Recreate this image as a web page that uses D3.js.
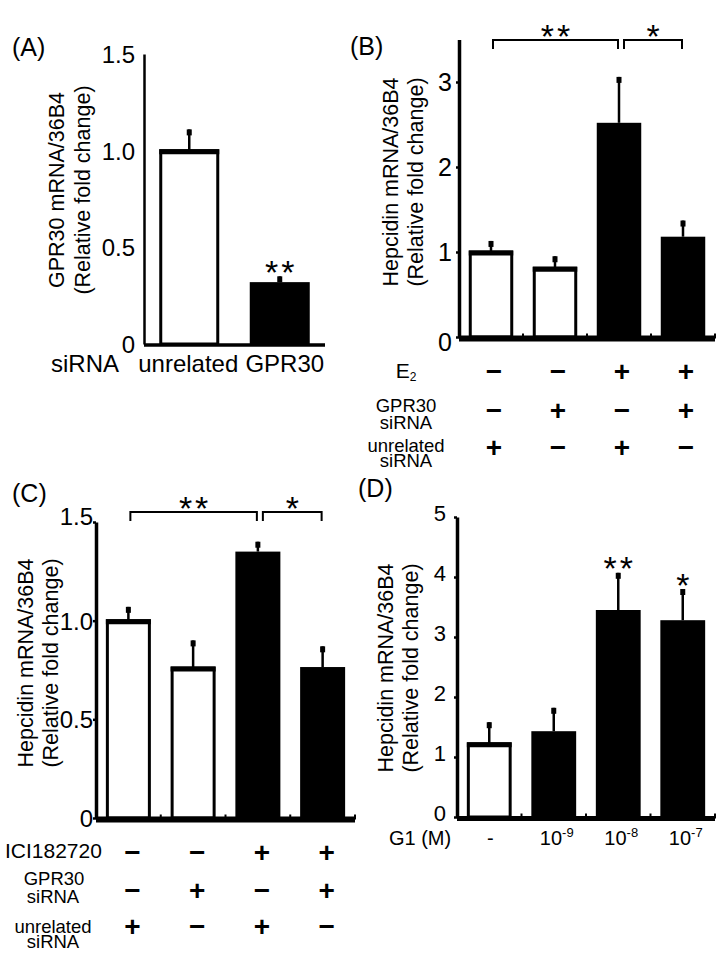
<!DOCTYPE html>
<html><head><meta charset="utf-8">
<script src="https://cdn.jsdelivr.net/npm/d3@7"></script>
<style>
html,body{margin:0;padding:0;background:#fff;}
svg{display:block;}
</style></head><body>
<svg id="chart" width="724" height="954"></svg>
<script>
// ---------- DATA ----------
// Panel A
const aCategories = ["unrelated", "GPR30"];
const aValues = [1.0, 0.32];
const aErrTop = [1.11, 0.35];
const aSig = ["", "**"];
const aTicks = [0, 0.5, 1.0, 1.5];
const aTickLabels = ["0", "0.5", "1.0", "1.5"];

// Panel B
const bCategories = ["g1", "g2", "g3", "g4"];
const bValues = [1.0, 0.81, 2.52, 1.18];
const bErrTop = [1.13, 0.95, 3.06, 1.37];
const bTicks = [0, 1, 2, 3];
const bTickLabels = ["0", "1", "2", "3"];
const bE2 = ["−", "−", "+", "+"];
const bGPR30siRNA = ["−", "+", "−", "+"];
const bUnrelatedSiRNA = ["+", "−", "+", "−"];
const bBrackets = [[0, 2, "**"], [2, 3, "*"]];

// Panel C
const cCategories = ["g1", "g2", "g3", "g4"];
const cValues = [1.0, 0.76, 1.35, 0.765];
const cErrTop = [1.07, 0.90, 1.40, 0.87];
const cTicks = [0, 0.5, 1.0, 1.5];
const cTickLabels = ["0", "0.5", "1.0", "1.5"];
const cICI = ["−", "−", "+", "+"];
const cGPR30siRNA = ["−", "+", "−", "+"];
const cUnrelatedSiRNA = ["+", "−", "+", "−"];
const cBrackets = [[0, 2, "**"], [2, 3, "*"]];

// Panel D (G1 dose, M)
const dCategories = ["-", "-9", "-8", "-7"];
const dValues = [1.22, 1.43, 3.45, 3.28];
const dErrTop = [1.58, 1.82, 4.07, 3.80];
const dSig = ["", "", "**", "*"];
const dTicks = [0, 1, 2, 3, 4, 5];
const dTickLabels = ["0", "1", "2", "3", "4", "5"];

// ---------- DRAWING ----------
const FONT = '"Liberation Sans", Arial, Helvetica, sans-serif';
const svg = d3.select("#chart").attr("font-family", FONT);

function panel(o) {
  const g = svg.append("g");
  const y = d3.scaleLinear().domain([0, o.max]).range([o.y0, o.y1]);
  const x = d3.scaleBand().domain(o.categories).range([o.x0, o.x1])
    .paddingInner(o.pad).paddingOuter(o.pad / 2);
  const cx = c => x(c) + x.bandwidth() / 2;

  o.categories.forEach((c, i) => {
    const white = o.isControl(i);
    const v = o.values[i];
    g.append("line").attr("x1", cx(c)).attr("x2", cx(c))
      .attr("y1", y(v)).attr("y2", y(o.errTop[i]))
      .attr("stroke", "#000").attr("stroke-width", 2.5);
    g.append("rect").attr("x", cx(c) - 2.5).attr("width", 5)
      .attr("y", y(o.errTop[i])).attr("height", 6).attr("fill", "#000");
    if (white) {
      g.append("rect").attr("x", x(c) + 1.5).attr("width", x.bandwidth() - 3)
        .attr("y", y(v)).attr("height", y(0) - y(v))
        .attr("fill", "#fff").attr("stroke", "#000").attr("stroke-width", 3);
      g.append("line").attr("x1", x(c)).attr("x2", x(c) + x.bandwidth())
        .attr("y1", y(v) + 1).attr("y2", y(v) + 1)
        .attr("stroke", "#000").attr("stroke-width", 5);
    } else {
      g.append("rect").attr("x", x(c)).attr("width", x.bandwidth())
        .attr("y", y(v)).attr("height", y(0) - y(v)).attr("fill", "#000");
    }
  });

  const ax = g.append("g").attr("transform", `translate(${o.x0},0)`)
    .call(d3.axisLeft(y).tickValues(o.ticks).tickFormat((d, i) => o.tickLabels[i])
      .tickSize(o.tickSize).tickPadding(o.tickPad).tickSizeOuter(0));
  ax.attr("font-family", null).attr("font-size", null);
  ax.select(".domain").attr("stroke", "#000").attr("stroke-width", o.axisW);
  ax.selectAll(".tick line").attr("stroke", "#000").attr("stroke-width", 2.5);
  ax.selectAll(".tick text").attr("fill", "#000").attr("font-size", o.fs)
    .attr("font-family", FONT)
    .attr("dy", d => 0.35 * o.fs + (o.shift || 0)
      + (d === 0 ? (o.zeroShift || 0) : 0)
      + (d === o.max ? (o.topShift || 0) : 0));

  const by = y(0) + o.baseOff;
  g.append("line").attr("x1", o.x0).attr("x2", o.x1).attr("y1", by).attr("y2", by)
    .attr("stroke", "#000").attr("stroke-width", o.baseW);
  if (o.boundaryTicks) {
    o.categories.forEach((c, i) => {
      const bx = o.x0 + x.step() * (i + 1);
      g.append("line").attr("x1", bx).attr("x2", bx).attr("y1", by).attr("y2", by - 5)
        .attr("stroke", "#000").attr("stroke-width", 2);
    });
  }

  if (o.sig) {
    o.sig.forEach((s, i) => {
      if (!s) return;
      g.append("text").attr("x", cx(o.categories[i]) + 1.5)
        .attr("y", y(o.errTop[i]) - 12 + 19.5)
        .attr("text-anchor", "middle").attr("font-size", 34).attr("letter-spacing", 3)
        .text(s);
    });
  }
  if (o.brackets) {
    o.brackets.forEach(([a, b, s], k) => {
      const xa = cx(o.categories[a]) + (k === 0 ? 2 : 5);
      const xb = cx(o.categories[b]) - 1;
      const yb = o.bracketY;
      g.append("path").attr("d", `M${xa},${yb + 9}V${yb}H${xb}V${yb + 9}`)
        .attr("fill", "none").attr("stroke", "#000").attr("stroke-width", 2);
      g.append("text").attr("x", (xa + xb) / 2 + 1.5).attr("y", yb - 12 + 19.5)
        .attr("text-anchor", "middle").attr("font-size", 34).attr("letter-spacing", 3)
        .text(s);
    });
  }

  [[o.lab1x, o.ylab[0]], [o.lab2x, o.ylab[1]]].forEach(([bx, t]) => {
    svg.append("text").attr("transform", `translate(${bx},${o.labCy}) rotate(-90)`)
      .attr("text-anchor", "middle").attr("font-size", 21.5).text(t);
  });

  svg.append("text").attr("x", o.letterX).attr("y", o.letterY)
    .attr("font-size", 25).text(o.letter);

  return { x, y, cx };
}

function signRow(p, arr, cyRow, dx) {
  arr.forEach((s, i) => {
    svg.append("text").attr("x", p.cx(p.x.domain()[i]) + dx).attr("y", cyRow + 9.8)
      .attr("text-anchor", "middle").attr("font-size", 28).attr("font-weight", "bold")
      .text(s);
  });
}
function label(x, yb, t, fs, anchor) {
  return svg.append("text").attr("x", x).attr("y", yb).attr("font-size", fs)
    .attr("text-anchor", anchor || "middle").text(t);
}

// Panel A
const pA = panel({
  categories: aCategories, values: aValues, errTop: aErrTop, sig: aSig,
  isControl: i => aCategories[i] === "unrelated",
  ticks: aTicks, tickLabels: aTickLabels, max: 1.5,
  x0: 144, x1: 325, y0: 344, y1: 54, pad: 0.337,
  fs: 24, tickSize: 0, tickPad: 9, axisW: 2.5, baseW: 3.5, baseOff: 1,
  boundaryTicks: false,
  ylab: ["GPR30 mRNA/36B4", "(Relative fold change)"], lab1x: 64, lab2x: 90, labCy: 190,
  letter: "(A)", letterX: 12, letterY: 56
});
label(85, 372, "siRNA", 24);
aCategories.forEach((c, i) => label(pA.cx(c) + (i === 0 ? -1 : 5), 372, c, 24));

// Panel B
const pB = panel({
  categories: bCategories, values: bValues, errTop: bErrTop,
  isControl: i => bE2[i] === "−",
  ticks: bTicks, tickLabels: bTickLabels, max: 3.5,
  x0: 459, x1: 715, y0: 337, y1: 39.5, pad: 0.305,
  fs: 25, tickSize: 3, tickPad: 4, axisW: 3.5, baseW: 6, baseOff: 1.5, zeroShift: 5,
  boundaryTicks: true, brackets: bBrackets, bracketY: 40,
  ylab: ["Hepcidin mRNA/36B4", "(Relative fold change)"], lab1x: 397.5, lab2x: 423, labCy: 182,
  letter: "(B)", letterX: 350, letterY: 55
});
{
  const e = label(406, 378, "E", 21);
  e.append("tspan").attr("font-size", 12).attr("dy", 2.5).text("2");
  label(406, 412, "GPR30", 18.5);
  label(406, 428.5, "siRNA", 18.5);
  label(406, 452, "unrelated", 18.5);
  label(406, 467, "siRNA", 18.5);
  signRow(pB, bE2, 371, 3);
  signRow(pB, bGPR30siRNA, 410, 3);
  signRow(pB, bUnrelatedSiRNA, 447, 3);
}

// Panel C
const pC = panel({
  categories: cCategories, values: cValues, errTop: cErrTop,
  isControl: i => cICI[i] === "−",
  ticks: cTicks, tickLabels: cTickLabels, max: 1.5,
  x0: 96, x1: 355, y0: 818, y1: 522, pad: 0.305,
  fs: 24, tickSize: 3, tickPad: 0, axisW: 3.5, baseW: 6, baseOff: 1.5, topShift: -6,
  boundaryTicks: true, brackets: cBrackets, bracketY: 512,
  ylab: ["Hepcidin mRNA/36B4", "(Relative fold change)"], lab1x: 32.5, lab2x: 58, labCy: 663,
  letter: "(C)", letterX: 12, letterY: 502
});
{
  label(5, 858, "ICI182720", 21, "start");
  label(54, 885, "GPR30", 18.5);
  label(53, 903, "siRNA", 18.5);
  label(53, 933, "unrelated", 18.5);
  label(53, 948, "siRNA", 18.5);
  signRow(pC, cICI, 852, 4);
  signRow(pC, cGPR30siRNA, 890, 4);
  signRow(pC, cUnrelatedSiRNA, 926, 4);
}

// Panel D
const pD = panel({
  categories: dCategories, values: dValues, errTop: dErrTop, sig: dSig,
  isControl: i => dCategories[i] === "-",
  ticks: dTicks, tickLabels: dTickLabels, max: 5,
  x0: 457, x1: 715, y0: 817, y1: 517, pad: 0.305,
  fs: 22, tickSize: 3, tickPad: 8, axisW: 3.5, baseW: 5, baseOff: 1.5, shift: -4,
  boundaryTicks: true,
  ylab: ["Hepcidin mRNA/36B4", "(Relative fold change)"], lab1x: 392.5, lab2x: 418, labCy: 668,
  letter: "(D)", letterX: 358, letterY: 497
});
{
  label(420, 845, "G1 (M)", 20);
  dCategories.forEach(c => {
    if (c === "-") {
      label(pD.cx(c) + 1, 845, "-", 20);
    } else {
      const t = label(pD.cx(c) + 3, 845, "10", 20);
      t.append("tspan").attr("font-size", 13).attr("dy", -8).text(c);
    }
  });
}
</script>
</body></html>
